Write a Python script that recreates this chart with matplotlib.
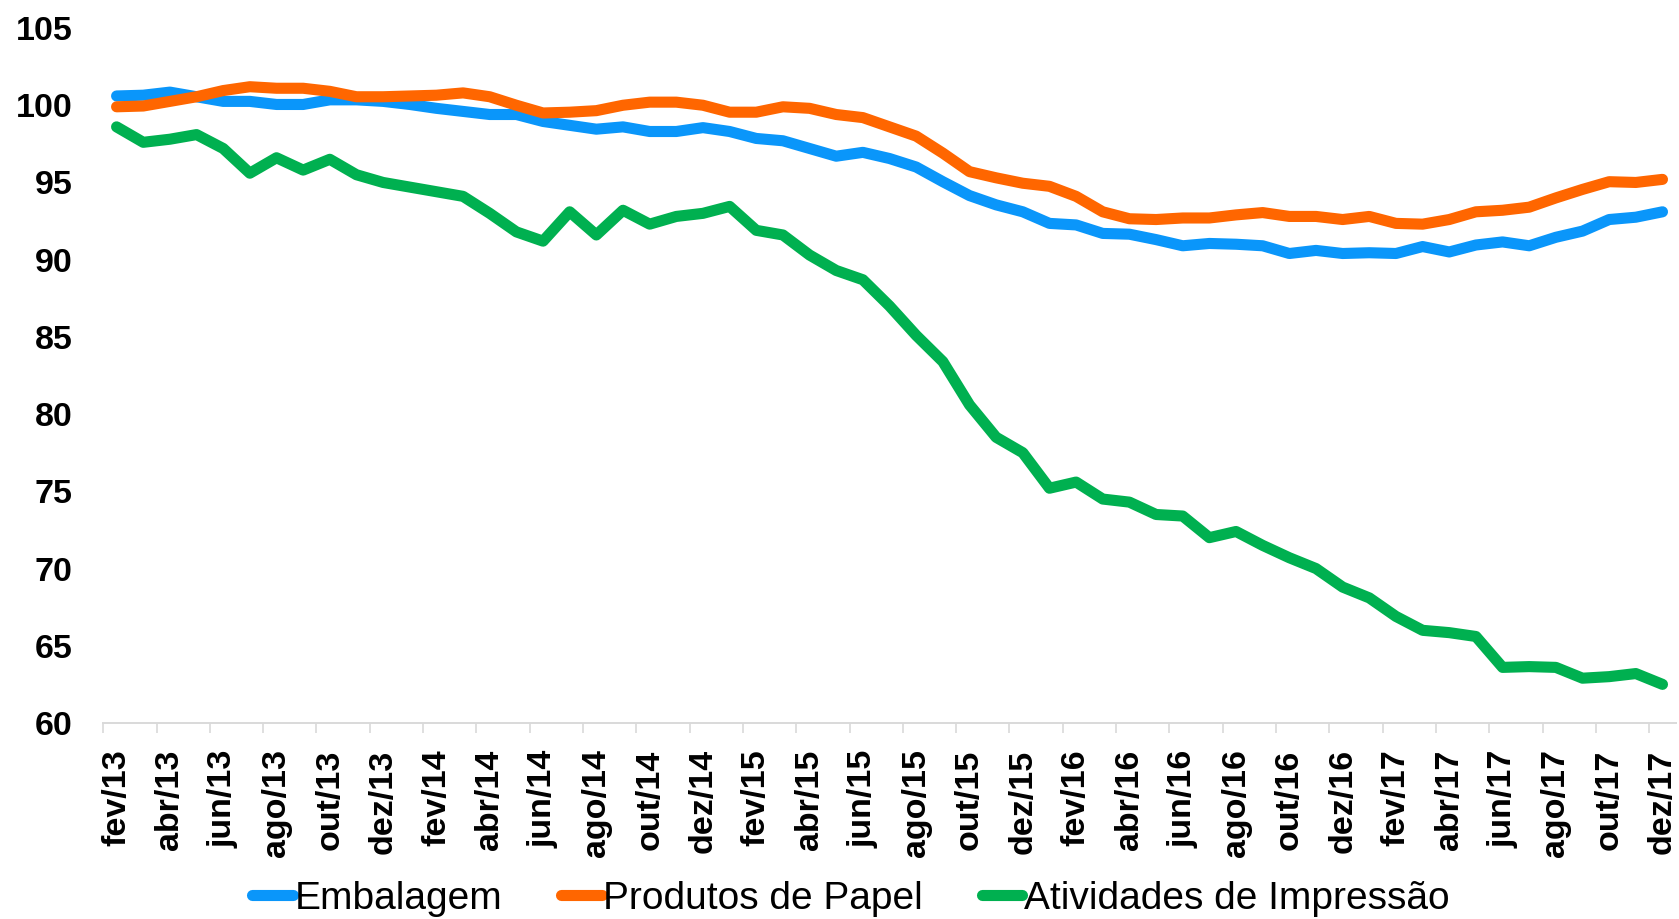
import matplotlib
matplotlib.use("Agg")
import matplotlib.pyplot as plt
import numpy as np

plt.rcParams["font.family"] = ["Liberation Sans", "DejaVu Sans"]

# ---------- data (monthly index, fev/13 .. dez/17) ----------
MONTHS = ["jan", "fev", "mar", "abr", "mai", "jun", "jul", "ago", "set", "out", "nov", "dez"]
YEARS = ["13", "14", "15", "16", "17"]
categories = [f"{m}/{y}" for y in YEARS for m in MONTHS][1:]

embalagem = [
    100.6, 100.65, 100.85, 100.55, 100.25, 100.25, 100.05, 100.05, 100.35, 100.35,
    100.25, 100.05, 99.8, 99.6, 99.4, 99.4, 98.95, 98.7, 98.45, 98.6,
    98.3, 98.3, 98.55, 98.3, 97.85, 97.7, 97.2, 96.7, 96.95, 96.55,
    96.0, 95.05, 94.15, 93.55, 93.1, 92.35, 92.25, 91.7, 91.65, 91.3,
    90.9, 91.05, 91.0, 90.9, 90.4, 90.6, 90.4, 90.45, 90.4, 90.85,
    90.5, 90.95, 91.15, 90.9, 91.45, 91.85, 92.6, 92.75, 93.1,
]
produtos_papel = [
    99.9, 99.95, 100.25, 100.55, 100.95, 101.2, 101.1, 101.1, 100.9, 100.55,
    100.55, 100.6, 100.65, 100.8, 100.55, 100.0, 99.5, 99.55, 99.65, 100.0,
    100.2, 100.2, 100.0, 99.55, 99.55, 99.9, 99.8, 99.4, 99.2, 98.6,
    98.0, 96.9, 95.7, 95.3, 94.95, 94.75, 94.1, 93.1, 92.65, 92.6,
    92.7, 92.7, 92.9, 93.05, 92.8, 92.8, 92.6, 92.8, 92.35, 92.3,
    92.6, 93.1, 93.2, 93.4, 94.0, 94.55, 95.05, 95.0, 95.2,
]
impressao = [
    98.6, 97.6, 97.8, 98.1, 97.2, 95.6, 96.6, 95.8, 96.5, 95.5,
    95.0, 94.7, 94.4, 94.1, 93.0, 91.8, 91.2, 93.1, 91.6, 93.2,
    92.3, 92.8, 93.0, 93.45, 91.9, 91.6, 90.3, 89.3, 88.7, 87.0,
    85.1, 83.4, 80.6, 78.5, 77.5, 75.2, 75.6, 74.5, 74.3, 73.5,
    73.4, 72.0, 72.4, 71.5, 70.7, 70.0, 68.8, 68.1, 66.9, 66.0,
    65.85, 65.6, 63.6, 63.65, 63.6, 62.9, 63.0, 63.2, 62.5,
]

series = [
    ("Embalagem", embalagem, "#0A96FA"),
    ("Produtos de Papel", produtos_papel, "#FF6600"),
    ("Atividades de Impressão", impressao, "#00B050"),
]

# ---------- figure ----------
fig = plt.figure(figsize=(16.79, 9.19), dpi=100, facecolor="white")
ax = fig.add_axes([0.0615, 0.2133, 0.9366, 0.7562])

x = np.arange(len(categories))
handles = []
for name, vals, col in series:
    h, = ax.plot(x, vals, color=col, lw=8, solid_capstyle="round",
                 solid_joinstyle="round", label=name)
    handles.append(h)

ax.set_xlim(-0.5, len(categories) - 0.5)
ax.set_ylim(60, 105)
ax.set_yticks(np.arange(60, 106, 5))

# tick marks between categories, labels on every second category
ax.set_xticks(np.arange(-0.5, len(categories) - 0.5, 2))
ax.set_xticklabels([])
ax.set_xticks(x[::2], minor=True)
ax.set_xticklabels(categories[::2], minor=True, rotation=90,
                   fontsize=24.5, fontweight="bold")
ax.tick_params(axis="x", which="major", direction="out", length=7.5,
               width=1.2, color="#D9D9D9")
ax.tick_params(axis="x", which="minor", length=0, pad=19)
ax.tick_params(axis="y", length=0, pad=22, labelsize=24.5)
for lab in ax.get_yticklabels():
    lab.set_fontweight("bold")

for s in ["top", "right", "left"]:
    ax.spines[s].set_visible(False)
ax.spines["bottom"].set_color("#D9D9D9")
ax.spines["bottom"].set_linewidth(1.4)

fig.legend(handles=handles, loc="center", bbox_to_anchor=(0.5068, 0.022),
           ncol=3, frameon=False, fontsize=28, handlelength=1.05,
           handletextpad=0.05, columnspacing=1.5)

fig.savefig("out.png", dpi=100, facecolor="white")
